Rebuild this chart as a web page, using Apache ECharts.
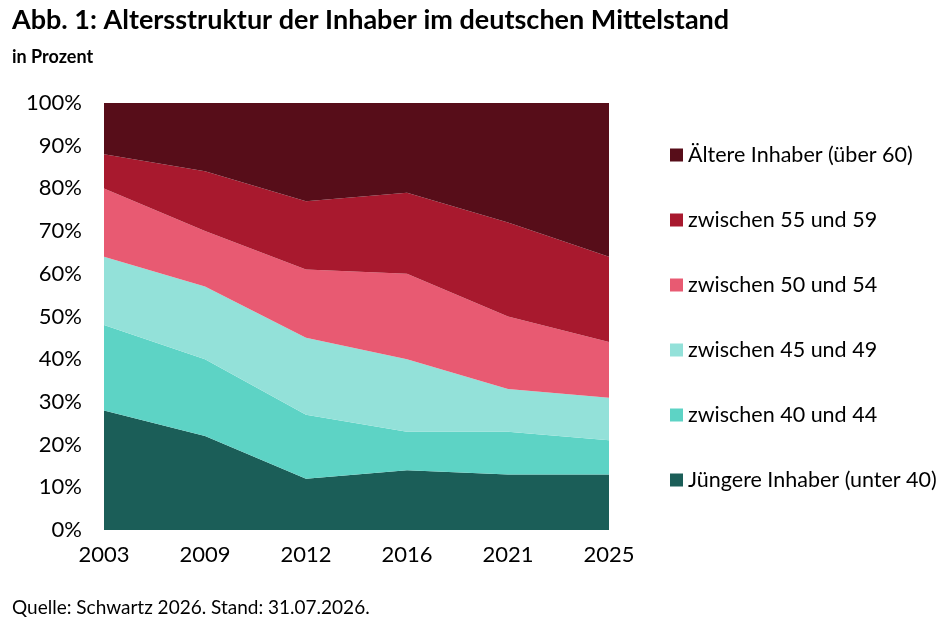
<!DOCTYPE html>
<html><head><meta charset="utf-8">
<script src="https://cdn.jsdelivr.net/npm/echarts@6/dist/echarts.min.js"></script>
<style>html,body{margin:0;background:#fff}#c{width:952px;height:632px}</style>
</head><body><div id="c"></div>
<script>
const years = ['2003','2009','2012','2016','2021','2025'];
const unter40 = [28, 22, 12, 14, 13, 13];
const a40_44 = [20, 18, 15, 9, 10, 8];
const a45_49 = [16, 17, 18, 17, 10, 10];
const a50_54 = [16, 13, 16, 20, 17, 13];
const a55_59 = [8, 14, 16, 19, 22, 20];
const ueber60 = [12, 16, 23, 21, 28, 36];
const names = ['Jüngere Inhaber (unter 40)','zwischen 40 und 44','zwischen 45 und 49','zwischen 50 und 54','zwischen 55 und 59','Ältere Inhaber (über 60)'];
const colors = ['#1b5e58','#5dd3c5','#93e1d9','#e85a72','#a8192e','#570d19'];
const vals = [unter40,a40_44,a45_49,a50_54,a55_59,ueber60];
const F = 'Lato, sans-serif';
const chart = echarts.init(document.getElementById('c'));
chart.setOption({
  animation:false,
  textStyle:{fontFamily:F},
  graphic:[
    {type:'text',left:12,top:7,style:{text:'Abb. 1: Altersstruktur der Inhaber im deutschen Mittelstand',font:'bold 27px '+F,fill:'#000'}},
    {type:'text',left:12,top:48,style:{text:'in Prozent',font:'bold 18px '+F,fill:'#000'}},
    {type:'text',left:12,top:598,style:{text:'Quelle: Schwartz 2026. Stand: 31.07.2026.',font:'19px '+F,fill:'#000'}}
  ],
  grid:{left:104,top:103,width:505,height:427},
  legend:{orient:'vertical',left:665,top:139,itemGap:43,itemWidth:13,itemHeight:13,
    icon:'rect',textStyle:{fontSize:21.5,color:'#000',fontFamily:F,height:23},
    data:names.slice().reverse()},
  xAxis:{type:'category',data:years,boundaryGap:false,
    axisLine:{show:false},axisTick:{show:false},
    axisLabel:{fontSize:22,color:'#000',margin:14,fontFamily:F}},
  yAxis:{type:'value',min:0,max:100,interval:10,
    axisLabel:{formatter:'{value}%',fontSize:22,color:'#000',margin:22,fontFamily:F},
    splitLine:{show:false},axisLine:{show:false},axisTick:{show:false}},
  series:vals.map((v,i)=>({name:names[i],type:'line',stack:'a',data:v,
    symbol:'none',lineStyle:{width:0},itemStyle:{color:colors[i]},
    areaStyle:{color:colors[i],opacity:1}}))
});
</script></body></html>
